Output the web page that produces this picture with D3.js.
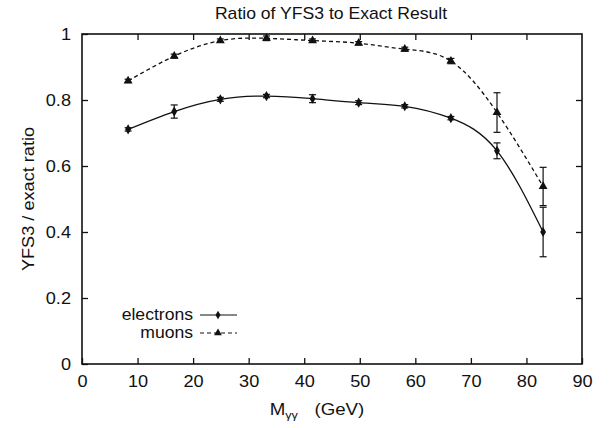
<!DOCTYPE html>
<html>
<head>
<meta charset="utf-8">
<script src="https://cdn.jsdelivr.net/npm/d3@7"></script>
<style>
  body { margin: 0; background: #fff; }
  text { font-family: "Liberation Sans", Arial, Helvetica, sans-serif; fill: #111; }
</style>
</head>
<body>
<svg></svg>
<script>
const margins = {t: 34, r: 28, b: 64, l: 82};
const size = {w: 610, h: 428};

// data
const massGeV = [8.3, 16.6, 24.9, 33.2, 41.5, 49.8, 58.1, 66.4, 74.7, 83.0];
const electronRatio = [0.711, 0.765, 0.802, 0.812, 0.804, 0.792, 0.781, 0.745, 0.646, 0.400];
const electronErr   = [0.005, 0.020, 0.006, 0.005, 0.012, 0.006, 0.005, 0.005, 0.024, 0.075];
const muonRatio = [0.858, 0.933, 0.980, 0.987, 0.980, 0.972, 0.954, 0.918, 0.762, 0.538];
const muonErr   = [0.005, 0.006, 0.005, 0.007, 0.005, 0.005, 0.006, 0.008, 0.060, 0.058];
const xTicks = [0, 10, 20, 30, 40, 50, 60, 70, 80, 90];
const yTicks = [0, 0.2, 0.4, 0.6, 0.8, 1];

const stretch = 1.1;   // the scanned lettering is a bit wide

const svg = d3.select('svg')
    .attr('width', size.w)
    .attr('height', size.h);

const x = d3.scaleLinear().domain([0, 90]).range([margins.l, size.w - margins.r]);
const y = d3.scaleLinear().domain([0, 1]).range([size.h - margins.b, margins.t]);

const tickLen = 6;

// frame
svg.append('rect')
    .attr('x', x(0)).attr('y', y(1))
    .attr('width', x(90) - x(0)).attr('height', y(0) - y(1))
    .attr('fill', 'none').attr('stroke', '#111').attr('stroke-width', 1.6);

// axes (ticks inward, mirrored)
svg.append('g').classed('x_axis', true)
    .attr('transform', `translate(0, ${y(0)})`)
    .call(d3.axisBottom(x).tickValues(xTicks).tickSizeInner(-tickLen).tickSizeOuter(0).tickPadding(11))
    .call(g => g.select('.domain').remove())
    .call(g => g.selectAll('text').attr('transform', `scale(${stretch},1)`));
svg.append('g')
    .attr('transform', `translate(0, ${y(1)})`)
    .call(d3.axisTop(x).tickValues(xTicks.slice(1, -1)).tickSizeInner(-tickLen).tickSizeOuter(0).tickFormat(''))
    .call(g => g.select('.domain').remove());
svg.append('g').classed('y_axis', true)
    .attr('transform', `translate(${x(0)}, 0)`)
    .call(d3.axisLeft(y).tickValues(yTicks).tickSizeInner(-tickLen).tickSizeOuter(0).tickPadding(11).tickFormat(d3.format('~g')))
    .call(g => g.select('.domain').remove())
    .call(g => g.selectAll('text').attr('x', 0).attr('transform', `translate(-11,0) scale(${stretch},1)`));
svg.append('g')
    .attr('transform', `translate(${x(90)}, 0)`)
    .call(d3.axisRight(y).tickValues(yTicks.slice(1, -1)).tickSizeInner(-tickLen).tickSizeOuter(0).tickFormat(''))
    .call(g => g.select('.domain').remove());

svg.selectAll('.tick line').attr('stroke', '#111').attr('stroke-width', 1.3);
svg.selectAll('.tick text')
    .style('font-family', '"Liberation Sans", Arial, sans-serif')
    .style('font-size', '16.5px')
    .attr('fill', '#111');

// title + axis labels
svg.append('text')
    .attr('transform', `translate(331, 19) scale(${stretch},1)`)
    .attr('text-anchor', 'middle')
    .style('font-size', '16px')
    .text('Ratio of YFS3 to Exact Result');

svg.append('text')
    .attr('transform', `translate(34, ${(y(0) + y(1)) / 2}) rotate(-90) scale(${stretch},1)`)
    .attr('text-anchor', 'middle')
    .style('font-size', '16.5px')
    .text('YFS3 / exact ratio');

const xl = svg.append('text')
    .attr('transform', `translate(317, 415) scale(${stretch},1)`)
    .attr('text-anchor', 'middle')
    .style('font-size', '17px');
xl.append('tspan').text('M');
xl.append('tspan').attr('dy', 4).style('font-size', '11.5px').text('γγ');
xl.append('tspan').attr('dy', -4).attr('dx', 15).text('(GeV)');

// series
const series = [
    {name: 'electrons', vals: electronRatio, errs: electronErr, dash: null, sym: d3.symbolDiamond},
    {name: 'muons', vals: muonRatio, errs: muonErr, dash: '4,3', sym: d3.symbolTriangle}
];

const line = d3.line()
    .x(d => x(d[0]))
    .y(d => y(d[1]))
    .curve(d3.curveNatural);

series.forEach(s => {
    const pts = massGeV.map((m, i) => [m, s.vals[i], s.errs[i]]);
    const g = svg.append('g');

    g.append('path')
        .datum(pts)
        .attr('d', line)
        .attr('fill', 'none')
        .attr('stroke', '#111')
        .attr('stroke-width', 1.3)
        .attr('stroke-dasharray', s.dash);

    const eb = g.selectAll('.err').data(pts).join('g');
    eb.append('line')
        .attr('x1', d => x(d[0])).attr('x2', d => x(d[0]))
        .attr('y1', d => y(d[1] - d[2])).attr('y2', d => y(d[1] + d[2]))
        .attr('stroke', '#111').attr('stroke-width', 1.2);
    [-1, 1].forEach(sg => {
        eb.append('line')
            .attr('x1', d => x(d[0]) - 3.5).attr('x2', d => x(d[0]) + 3.5)
            .attr('y1', d => y(d[1] + sg * d[2])).attr('y2', d => y(d[1] + sg * d[2]))
            .attr('stroke', '#111').attr('stroke-width', 1.2);
    });

    g.selectAll('.pt').data(pts).join('path')
        .attr('transform', d => `translate(${x(d[0])}, ${y(d[1])})`)
        .attr('d', d3.symbol().type(s.sym).size(s.name === 'muons' ? 34 : 30))
        .attr('fill', '#111');
});

// legend
const legend = svg.append('g');
series.forEach((s, i) => {
    const ly = 315 + i * 18;
    legend.append('text')
        .attr('transform', `translate(193, ${ly + 5}) scale(${stretch},1)`)
        .attr('text-anchor', 'end')
        .style('font-size', '16px')
        .text(s.name);
    legend.append('line')
        .attr('x1', 200).attr('x2', 237)
        .attr('y1', ly).attr('y2', ly)
        .attr('stroke', '#111').attr('stroke-width', 1.2)
        .attr('stroke-dasharray', s.dash);
    legend.append('path')
        .attr('transform', `translate(218, ${ly})`)
        .attr('d', d3.symbol().type(s.sym).size(s.name === 'muons' ? 26 : 22))
        .attr('fill', '#111');
});
</script>
</body>
</html>
